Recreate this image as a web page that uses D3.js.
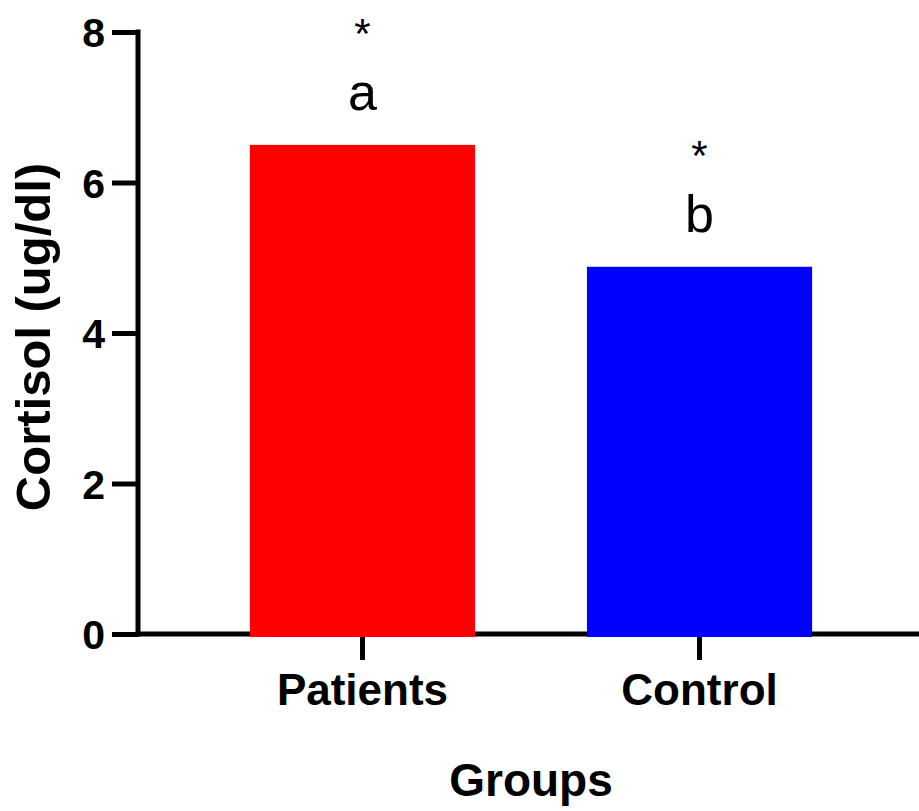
<!DOCTYPE html>
<html>
<head>
<meta charset="utf-8">
<script src="https://cdn.jsdelivr.net/npm/d3@7"></script>
<style>
  html, body { margin: 0; padding: 0; background: #fff; }
  svg { display: block; }
  text { font-family: "Liberation Sans", Arial, Helvetica, sans-serif; }
</style>
</head>
<body>
<svg id="chart" width="919" height="811"></svg>
<script>
// Mean cortisol by group
const groups = ["Patients", "Control"];
const cortisol = [6.5, 4.88];
const barColors = ["#ff0000", "#0000ff"];
const letters = ["a", "b"];
const stars = ["*", "*"];
const yTicks = [0, 2, 4, 6, 8];

const svg = d3.select("#chart");
const axisX = 138, baseY = 634, topY = 32;

const y = d3.scaleLinear().domain([0, 8]).range([baseY, topY]);
const x = d3.scaleBand().domain(groups).range([axisX, 924])
  .paddingInner(0.332).paddingOuter(0.332);

// Bars
const bars = svg.append("g");
bars.selectAll("rect")
  .data(groups)
  .join("rect")
  .attr("x", d => x(d))
  .attr("width", x.bandwidth())
  .attr("y", (d, i) => y(cortisol[i]))
  .attr("height", (d, i) => y(0) - y(cortisol[i]) + 3)
  .attr("fill", (d, i) => barColors[i]);

// Y axis
const yAxis = svg.append("g")
  .attr("transform", `translate(${axisX},0)`)
  .call(d3.axisLeft(y).tickValues(yTicks).tickFormat(d3.format("d"))
    .tickSize(26).tickSizeOuter(0).tickPadding(7));
yAxis.select(".domain").attr("stroke", "#000").attr("stroke-width", 5)
  .attr("d", `M0,${topY - 2.5}V${baseY + 2.5}`);
yAxis.selectAll(".tick line").attr("stroke", "#000").attr("stroke-width", 5);
yAxis.selectAll(".tick text")
  .attr("font-size", 41).attr("font-weight", "bold").attr("fill", "#000")
  .attr("dy", "0.36em");

// X axis
const xAxis = svg.append("g")
  .attr("transform", `translate(0,${baseY})`)
  .call(d3.axisBottom(x).tickSize(26).tickSizeOuter(0).tickPadding(14));
xAxis.select(".domain").attr("stroke", "#000").attr("stroke-width", 5)
  .attr("d", `M${axisX},0H919`);
xAxis.selectAll(".tick line").attr("stroke", "#000").attr("stroke-width", 5);
xAxis.selectAll(".tick text")
  .attr("font-size", 44).attr("font-weight", "bold").attr("fill", "#000");

// Bars sit above the axis line
bars.raise();

// Group letters and significance marks
const cx = d => x(d) + x.bandwidth() / 2;
svg.append("g").selectAll("text")
  .data(groups)
  .join("text")
  .attr("x", cx)
  .attr("y", (d, i) => y(cortisol[i]) - 35)
  .attr("text-anchor", "middle")
  .attr("font-size", 52)
  .attr("fill", "#000")
  .text((d, i) => letters[i]);

svg.append("g").selectAll("text")
  .data(groups)
  .join("text")
  .attr("x", cx)
  .attr("y", (d, i) => y(cortisol[i]) - 97)
  .attr("text-anchor", "middle")
  .attr("font-size", 42)
  .attr("fill", "#000")
  .text((d, i) => stars[i]);

// Axis titles
svg.append("text")
  .attr("x", 531).attr("y", 796)
  .attr("text-anchor", "middle")
  .attr("font-size", 46).attr("font-weight", "bold")
  .text("Groups");

svg.append("text")
  .attr("transform", `translate(50,337) rotate(-90)`)
  .attr("text-anchor", "middle")
  .attr("font-size", 49).attr("font-weight", "bold")
  .text("Cortisol (ug/dl)");
</script>
</body>
</html>
